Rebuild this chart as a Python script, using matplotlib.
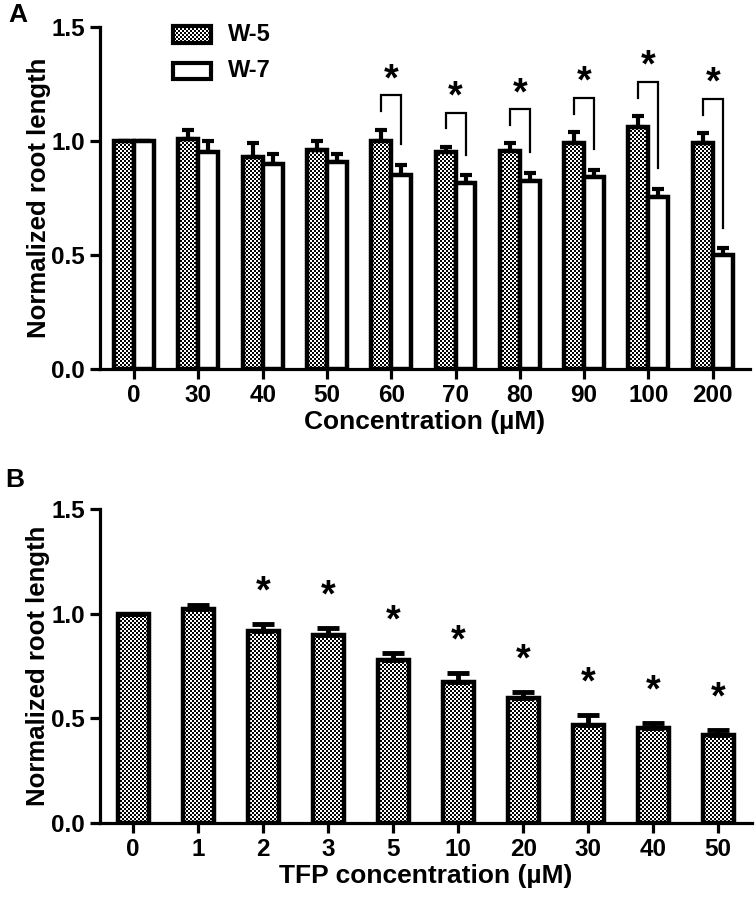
import numpy as np
import matplotlib
matplotlib.use('Agg')
import matplotlib.pyplot as plt
from matplotlib.path import Path
from matplotlib.patches import Rectangle
from matplotlib.transforms import IdentityTransform

plt.rcParams['font.family'] = ['Liberation Sans', 'DejaVu Sans']
plt.rcParams['font.weight'] = 'bold'

# panel A data
conc_a = ['0', '30', '40', '50', '60', '70', '80', '90', '100', '200']
w5_mean = [1.00, 1.01, 0.93, 0.96, 1.00, 0.95, 0.955, 0.99, 1.06, 0.99]
w5_err = [0.0, 0.04, 0.06, 0.04, 0.05, 0.025, 0.035, 0.05, 0.05, 0.045]
w7_mean = [1.00, 0.95, 0.90, 0.91, 0.85, 0.815, 0.825, 0.84, 0.755, 0.50]
w7_err = [0.0, 0.05, 0.045, 0.035, 0.045, 0.035, 0.035, 0.033, 0.035, 0.03]
sig_a = [4, 5, 6, 7, 8, 9]  # groups with a bracket + star

# panel B data
conc_b = ['0', '1', '2', '3', '5', '10', '20', '30', '40', '50']
tfp_mean = [1.00, 1.02, 0.915, 0.90, 0.78, 0.672, 0.595, 0.467, 0.455, 0.42]
tfp_err = [0.0, 0.02, 0.035, 0.03, 0.03, 0.043, 0.03, 0.048, 0.025, 0.025]
sig_b = [2, 3, 4, 5, 6, 7, 8, 9]

W, H = 756, 901
fig = plt.figure(figsize=(W / 100, H / 100), dpi=100)
axA = fig.add_axes([100 / W, 1 - 369 / H, 650 / W, 342 / H])
axB = fig.add_axes([100 / W, 1 - 823 / H, 652 / W, 314 / H])


def style_axes(ax, labels, xlabel, xlim):
    ax.set_facecolor('none')
    ax.set_xlim(*xlim)
    ax.set_ylim(0, 1.5)
    for s in ['top', 'right']:
        ax.spines[s].set_visible(False)
    for s in ['left', 'bottom']:
        ax.spines[s].set_linewidth(2.3)
    ax.set_xticks(range(len(labels)))
    ax.set_xticklabels(labels)
    ax.set_yticks([0, 0.5, 1.0, 1.5])
    ax.set_yticklabels(['0.0', '0.5', '1.0', '1.5'])
    ax.tick_params(width=2.3, length=7, labelsize=17.5, pad=4)
    ax.set_xlabel(xlabel, fontsize=19, fontweight='bold', labelpad=2)
    ax.set_ylabel('Normalized root length', fontsize=18.5, fontweight='bold')
    ax.yaxis.set_label_coords(-0.076, 0.5)


def star(ax, x, y, fs=27):
    ax.annotate('*', (x, y), xytext=(0, -0.6 * fs), textcoords='offset points',
                ha='center', va='baseline', fontsize=fs, fontweight='bold')


style_axes(axA, conc_a, 'Concentration (\u00b5M)', (-0.53, 9.58))
style_axes(axB, conc_b, 'TFP concentration (\u00b5M)', (-0.51, 9.52))

# panel A bars
bw = 0.31
xa = np.arange(len(conc_a))
barsA = axA.bar(xa - bw / 2, w5_mean, width=bw, facecolor='none',
                edgecolor='k', linewidth=3.2, zorder=3)
axA.bar(xa + bw / 2, w7_mean, width=bw, facecolor='white',
        edgecolor='k', linewidth=3.2, zorder=3)
axA.errorbar(xa - bw / 2, w5_mean, yerr=[np.zeros(len(xa)), w5_err], fmt='none',
             ecolor='k', elinewidth=3, capsize=4, capthick=3, zorder=2)
axA.errorbar(xa + bw / 2, w7_mean, yerr=[np.zeros(len(xa)), w7_err], fmt='none',
             ecolor='k', elinewidth=3, capsize=4, capthick=3, zorder=2)

for i in sig_a:
    top = w5_mean[i] + w5_err[i] + 0.15
    xl, xr = i - bw / 2, i + bw / 2
    axA.plot([xl, xl, xr, xr],
             [top - 0.07, top, top, w7_mean[i] + w7_err[i] + 0.09],
             color='k', lw=1.6, solid_joinstyle='miter')
    star(axA, i, top + 0.12)

# legend drawn by hand (checker box + empty box)
legA = Rectangle((0.113, 0.953), 0.057, 0.05, transform=axA.transAxes,
                 facecolor='none', edgecolor='k', lw=3, clip_on=False)
legB = Rectangle((0.113, 0.848), 0.057, 0.048, transform=axA.transAxes,
                 facecolor='white', edgecolor='k', lw=3, clip_on=False)
axA.add_patch(legA)
axA.add_patch(legB)
axA.text(0.197, 0.978, 'W-5', transform=axA.transAxes, fontsize=17,
         fontweight='bold', va='center')
axA.text(0.197, 0.872, 'W-7', transform=axA.transAxes, fontsize=17,
         fontweight='bold', va='center')

# panel B bars
xb = np.arange(len(conc_b))
barsB = axB.bar(xb, tfp_mean, width=0.48, facecolor='none',
                edgecolor='k', linewidth=3.2, zorder=3)
axB.errorbar(xb, tfp_mean, yerr=[np.zeros(len(xb)), tfp_err], fmt='none',
             ecolor='k', elinewidth=3.5, capsize=8, capthick=3.5, zorder=2)
for i in sig_b:
    star(axB, i, tfp_mean[i] + tfp_err[i] + 0.21)

# checker fill behind the patterned bars
jj, ii = np.meshgrid(np.arange(W), np.arange(H))
checker = ((ii // 2 + jj // 2) % 2).astype(float)
paths = [p.get_path().transformed(p.get_transform())
         for p in list(barsA) + list(barsB) + [legA]]
clip = Path.make_compound_path(*paths)
im = fig.figimage(checker, xo=0, yo=0, cmap='gray', vmin=0, vmax=1, zorder=-1)
im.set_clip_path(clip, IdentityTransform())

fig.text(8 / W, 1 - 22 / H, 'A', fontsize=19, fontweight='bold')
fig.text(5 / W, 1 - 487 / H, 'B', fontsize=19, fontweight='bold')

fig.savefig('out.png', dpi=100)
